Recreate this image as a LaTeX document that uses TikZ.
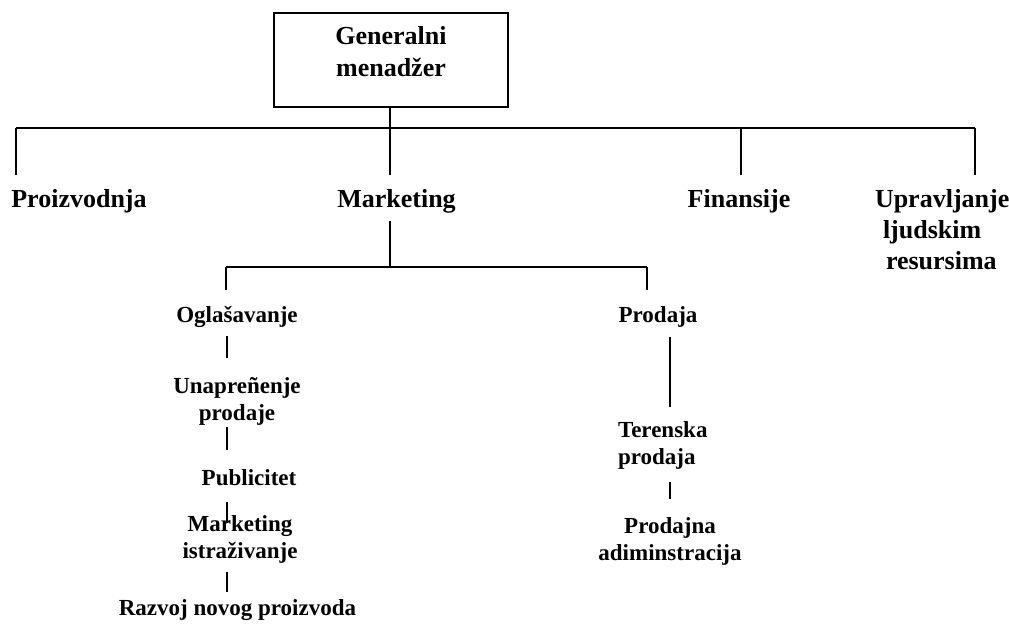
\documentclass[tikz,border=0pt]{standalone}
\usepackage{fontspec}
\setmainfont{Liberation Serif}
\begin{document}
\begin{tikzpicture}[x=0.75pt,y=-0.75pt,
  line width=1pt,
  every node/.style={inner sep=0pt, outer sep=0pt},
  toplbl/.style={font=\fontsize{19.5pt}{23.5pt}\selectfont\bfseries, anchor=base},
  sublbl/.style={font=\fontsize{17.25pt}{20.25pt}\selectfont\bfseries, anchor=base},
]
\useasboundingbox (0,0) rectangle (1009,631);

% general manager box (multi-line texts are placed by their last baseline)
\node[draw, minimum width=175.5pt, minimum height=70.5pt] (gm) at (391,60) {};
\node[font=\fontsize{19.5pt}{24pt}\selectfont\bfseries, anchor=base, align=center] (gmt) at (391,77) {Generalni\\menadžer};

% first level
\node[toplbl] (pro) at (79,207) {Proizvodnja};
\node[toplbl] (mkt) at (396.5,207) {Marketing};
\node[toplbl] (fin) at (739,207) {Finansije};
\node[toplbl, anchor=base west, align=left] (upr) at (875,269.7)
  {Upravljanje\\\hspace*{6pt}ljudskim\\\hspace*{8.25pt}resursima};

\coordinate (busL) at (16,128);
\coordinate (busM) at (390,128);
\coordinate (busF) at (741,128);
\coordinate (busR) at (975,128);

\draw (gm.south -| busM) -- (busM);
\draw (busL) -- (busR);
\draw[shorten >=10.5pt] (busL) -- (busL |- pro.north);
\draw[shorten >=10.5pt] (busM) -- (busM |- mkt.north);
\draw[shorten >=10.5pt] (busF) -- (busF |- fin.north);
\draw[shorten >=10.5pt] (busR) -- (busR |- upr.north);

% marketing departments
\coordinate (mb) at (390,267);
\coordinate (mbL) at (226,267);
\coordinate (mbR) at (647,267);
\coordinate (colL) at (227,0);
\coordinate (colR) at (670,0);

\node[sublbl] (ogl) at (237,322) {Oglašavanje};
\node[sublbl, align=center] (unap) at (237,420) {Unapreñenje\\prodaje};
\node[sublbl] (pub) at (249,485) {Publicitet};
\node[sublbl, align=center] (mi) at (240,558) {Marketing\\istraživanje};
\node[sublbl] (rnp) at (237.5,615) {Razvoj novog proizvoda};

\node[sublbl] (pr) at (658,322) {Prodaja};
\node[sublbl, anchor=base west, align=left] (ter) at (618,464) {Terenska\\prodaja};
\node[sublbl, align=center] (pa) at (670,560) {Prodajna\\adiminstracija};

\draw[shorten <=6.3pt] (mkt.south -| mb) -- (mb);
\draw (mbL) -- (mbR);
\draw[shorten >=12pt] (mbL) -- (mbL |- ogl.north);
\draw[shorten >=12pt] (mbR) -- (mbR |- pr.north);

% left column connectors
\draw[shorten <=6.75pt, shorten >=14.25pt] (ogl.south -| colL) -- (unap.north -| colL);
\draw[shorten <=1.5pt, shorten >=14.25pt] (unap.south -| colL) -- (pub.north -| colL);
\draw[shorten <=12.75pt, shorten >=-6pt] (pub.south -| colL) -- (mi.north -| colL);
\draw[shorten <=6.75pt, shorten >=5.25pt] (mi.south -| colL) -- (rnp.north -| colL);

% right column connectors
\draw[shorten <=7.5pt, shorten >=10.5pt] (pr.south -| colR) -- (ter.north -| colR);
\draw[shorten <=9.75pt, shorten >=13.5pt] (ter.south -| colR) -- (pa.north -| colR);
\end{tikzpicture}
\end{document}
